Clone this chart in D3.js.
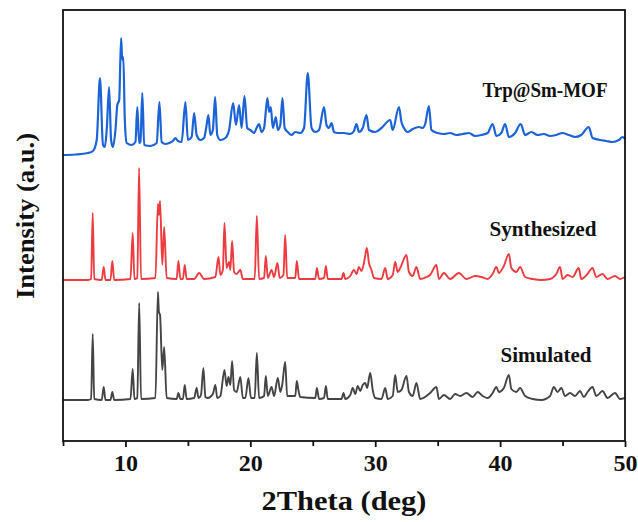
<!DOCTYPE html>
<html>
<head>
<meta charset="utf-8">
<script src="https://cdn.jsdelivr.net/npm/d3@7"></script>
<style>
  body { margin: 0; background: #fff; }
  text { font-family: "Liberation Serif", "Times New Roman", serif; font-weight: bold; fill: #111; }
</style>
</head>
<body>
<script>
// 2Theta (deg), intensity (a.u., patterns already stacked)
const trpTheta = [5.0, 6.0, 7.0, 7.4, 7.7, 7.96, 8.2, 8.35, 8.5, 8.69, 8.85, 9.0, 9.2, 9.35, 9.5, 9.65, 9.75, 9.83, 9.95, 10.1,
  10.5, 10.8, 10.95, 11.1, 11.2, 11.35, 11.5, 12.0, 12.5, 12.72, 12.9, 13.2, 13.5, 13.8, 14.0, 14.2, 14.5, 14.8, 15.0, 15.3,
  15.5, 15.7, 16.0, 16.3, 16.5, 16.64, 16.8, 17.0, 17.18, 17.35, 17.6, 18.0, 18.3, 18.62, 18.85, 19.1, 19.3, 19.53, 19.75, 20.0,
  20.3, 20.5, 20.7, 20.9, 21.1, 21.37, 21.5, 21.64, 21.8, 22.04, 22.2, 22.4, 22.57, 22.75, 23.0, 23.3, 23.6, 24.0, 24.3, 24.6,
  24.9, 25.2, 25.5, 25.9, 26.1, 26.3, 26.5, 26.7, 27.0, 27.5, 28.0, 28.3, 28.5, 28.7, 29.0, 29.3, 29.5, 30.0, 30.5, 31.2,
  31.4, 31.9, 32.1, 32.3, 32.6, 33.0, 33.5, 33.8, 34.0, 34.3, 34.5, 35.0, 35.5, 36.0, 36.5, 37.0, 37.5, 38.0, 38.5, 39.0,
  39.4, 39.7, 40.1, 40.4, 40.7, 41.2, 41.65, 42.0, 42.5, 43.0, 43.5, 44.0, 44.5, 45.0, 45.5, 46.0, 46.5, 47.1, 47.4, 48.0,
  48.5, 49.0, 49.5, 49.8, 50.0];
const trpInt = [286, 286.5, 288, 290, 301, 363, 296, 294, 311, 354, 301, 294, 311, 336, 341, 403, 381, 384, 321, 298,
  296, 299, 334, 298, 299, 348, 296, 295, 298, 339, 299, 297, 298, 300, 303, 300, 299, 339, 301, 304,
  328, 306, 301, 303, 316, 326, 306, 311, 344, 306, 301, 303, 311, 338, 316, 336, 313, 345, 313, 311,
  308, 313, 317, 309, 313, 343, 329, 334, 313, 324, 311, 316, 343, 313, 309, 306, 309, 308, 313, 368,
  313, 309, 311, 334, 316, 313, 318, 309, 308, 308, 307, 310, 317, 309, 313, 326, 311, 309, 313, 321,
  311, 334, 319, 313, 309, 312, 314, 313, 317, 335, 311, 308, 307, 308, 306, 307, 308, 305, 306, 308,
  317, 305, 308, 317, 304, 308, 317, 306, 309, 306, 307, 305, 306, 308, 306, 304, 306, 314, 303, 301,
  300, 299, 301, 304, 302];

const synTheta = [5.0, 7.0, 7.25, 7.38, 7.5, 8.1, 8.26, 8.4, 8.8, 8.95, 9.1, 10.4, 10.58, 10.72, 10.95, 11.09, 11.25, 12.4, 12.6, 12.68,
  12.77, 12.95, 13.1, 13.3, 14.1, 14.24, 14.4, 14.6, 14.75, 14.9, 15.5, 15.9, 16.3, 17.2, 17.45, 17.6, 17.8, 17.93, 18.1, 18.3,
  18.4, 18.54, 18.7, 18.9, 19.2, 19.4, 20.35, 20.52, 20.7, 21.1, 21.24, 21.4, 21.7, 21.9, 22.17, 22.35, 22.65, 22.79, 22.95, 23.6,
  23.72, 23.9, 25.2, 25.33, 25.5, 25.9, 26.05, 26.2, 27.3, 27.46, 27.6, 28.0, 28.3, 28.5, 28.7, 28.9, 29.1, 29.33, 29.5, 29.7,
  29.9, 30.5, 30.8, 31.0, 31.4, 31.6, 31.8, 32.0, 32.5, 32.7, 33.0, 33.3, 33.6, 34.1, 34.4, 34.9, 35.1, 35.5, 36.0, 36.7,
  37.3, 38.0, 38.5, 39.0, 39.4, 39.7, 39.9, 40.3, 40.7, 40.9, 41.3, 41.6, 42.0, 42.6, 43.3, 44.0, 44.5, 44.8, 45.0, 45.4,
  45.8, 46.3, 46.5, 47.0, 47.4, 47.7, 48.2, 48.6, 49.2, 49.6, 50.0];
const synInt = [161, 161, 162, 228, 162, 161, 174, 161, 161, 180, 161, 162, 208, 162, 163, 273, 162, 163, 237, 226,
  240, 176, 214, 163, 162, 180, 162, 162, 176, 162, 162, 168, 162, 164, 184, 166, 171, 218, 173, 179,
  171, 200, 169, 167, 171, 162, 162, 225, 162, 163, 185, 163, 171, 164, 178, 163, 166, 206, 163, 163,
  180, 162, 162, 173, 162, 163, 175, 162, 162, 168, 162, 165, 171, 167, 174, 170, 178, 193, 178, 171,
  163, 162, 173, 162, 166, 179, 169, 173, 186, 169, 165, 174, 162, 164, 166, 176, 162, 168, 162, 168,
  162, 165, 164, 162, 167, 174, 168, 175, 187, 173, 169, 174, 164, 162, 161, 162, 167, 174, 162, 166,
  164, 173, 162, 167, 173, 164, 167, 162, 165, 162, 164];

const simTheta = [5.0, 7.0, 7.25, 7.38, 7.5, 8.1, 8.26, 8.4, 8.8, 8.95, 9.1, 10.4, 10.58, 10.72, 10.95, 11.1, 11.25, 12.4, 12.6, 12.68,
  12.77, 12.95, 13.1, 13.3, 14.1, 14.24, 14.4, 14.6, 14.75, 14.9, 15.5, 15.7, 15.85, 16.05, 16.24, 16.4, 16.6, 17.0, 17.2, 17.35,
  17.6, 17.93, 18.1, 18.25, 18.4, 18.54, 18.7, 18.9, 19.2, 19.4, 19.6, 19.85, 20.05, 20.35, 20.52, 20.7, 21.1, 21.24, 21.4, 21.7,
  21.9, 22.2, 22.4, 22.55, 22.79, 22.95, 23.6, 23.72, 23.85, 24.0, 25.2, 25.33, 25.5, 25.9, 26.05, 26.2, 27.3, 27.46, 27.6, 28.0,
  28.2, 28.4, 28.6, 28.8, 29.0, 29.2, 29.35, 29.6, 29.8, 30.0, 30.5, 30.8, 31.0, 31.4, 31.6, 31.8, 32.1, 32.5, 32.7, 33.0,
  33.3, 33.6, 34.1, 34.4, 34.9, 35.1, 35.5, 36.0, 36.4, 36.8, 37.3, 37.8, 38.2, 38.6, 39.0, 39.4, 39.7, 39.9, 40.3, 40.7,
  40.9, 41.3, 41.6, 42.0, 42.6, 43.3, 44.0, 44.3, 44.6, 44.9, 45.2, 45.6, 46.0, 46.4, 46.7, 47.0, 47.4, 47.7, 48.2, 48.6,
  49.2, 49.6, 50.0];
const simInt = [41, 41, 42, 107, 42, 41, 54, 41, 41, 49, 41, 42, 72, 42, 43, 138, 42, 43, 149, 129,
  126, 71, 94, 43, 42, 48, 42, 42, 56, 42, 43, 53, 43, 46, 73, 44, 43, 47, 56, 43,
  45, 71, 55, 64, 56, 80, 51, 49, 64, 43, 43, 63, 43, 43, 88, 43, 45, 65, 45, 54,
  45, 63, 49, 56, 79, 45, 45, 60, 51, 44, 43, 53, 42, 43, 55, 42, 42, 48, 42, 46,
  53, 47, 55, 50, 56, 58, 53, 68, 51, 43, 42, 53, 42, 45, 66, 49, 51, 65, 49, 45,
  58, 42, 45, 48, 54, 42, 46, 42, 47, 45, 48, 44, 49, 45, 43, 48, 54, 49, 53, 66,
  52, 49, 53, 45, 42, 41, 45, 54, 49, 53, 45, 48, 45, 50, 44, 49, 54, 45, 50, 43,
  48, 42, 43];

const seriesNames = ['Trp@Sm-MOF', 'Synthesized', 'Simulated'];
const seriesColors = ['#1c63d8', '#ee3b3f', '#444444'];
const xTicks = [5, 10, 15, 20, 25, 30, 35, 40, 45, 50];

const width = 638, height = 522;
const margin = {top: 10, right: 13, bottom: 81, left: 63};

let svg = d3.select('body').append('svg')
  .attr('width', width)
  .attr('height', height);

let x = d3.scaleLinear()
  .domain([5, 50])
  .range([margin.left, width - margin.right]);

let y = d3.scaleLinear()
  .domain([0, 431])
  .range([height - margin.bottom, margin.top]);

let series = [
  {name: seriesNames[0], color: seriesColors[0], theta: trpTheta, inten: trpInt, lx: 545, ly: 90, len: 125},
  {name: seriesNames[1], color: seriesColors[1], theta: synTheta, inten: synInt, lx: 543, ly: 229, len: 107},
  {name: seriesNames[2], color: seriesColors[2], theta: simTheta, inten: simInt, lx: 546, ly: 355, len: 91}
];

let line = d3.line()
  .curve(d3.curveMonotoneX)
  .x(d => x(d[0]))
  .y(d => y(d[1]));

svg.append('g')
  .selectAll('path')
  .data(series)
  .enter()
  .append('path')
  .attr('fill', 'none')
  .attr('stroke', d => d.color)
  .attr('stroke-width', (d, i) => i === 0 ? 2.2 : 1.9)
  .attr('stroke-linejoin', 'round')
  .attr('d', d => line(d.theta.map((t, i) => [t, d.inten[i]])));

svg.append('g')
  .selectAll('text')
  .data(series)
  .enter()
  .append('text')
  .attr('x', d => d.lx)
  .attr('y', d => d.ly)
  .attr('dy', '0.35em')
  .attr('text-anchor', 'middle')
  .attr('font-size', 21)
  .attr('textLength', d => d.len)
  .attr('lengthAdjust', 'spacingAndGlyphs')
  .text(d => d.name);

// frame
svg.append('rect')
  .attr('x', margin.left)
  .attr('y', margin.top)
  .attr('width', width - margin.left - margin.right)
  .attr('height', height - margin.top - margin.bottom)
  .attr('fill', 'none')
  .attr('stroke', '#111')
  .attr('stroke-width', 1.8);

let xAxis = svg.append('g')
  .attr('transform', `translate(0, ${height - margin.bottom})`)
  .call(d3.axisBottom(x)
    .tickValues(xTicks)
    .tickSize(6)
    .tickPadding(7)
    .tickFormat(d => d % 10 === 0 ? d : ''));

xAxis.select('.domain').remove();
xAxis.selectAll('line')
  .attr('stroke', '#111')
  .attr('stroke-width', 1.8)
  .attr('y2', d => d % 10 === 0 ? 6 : 5);
xAxis.selectAll('text')
  .attr('font-size', 24)
  .attr('fill', '#111');

svg.append('text')
  .attr('x', (margin.left + width - margin.right) / 2)
  .attr('y', 500)
  .attr('dy', '0.35em')
  .attr('text-anchor', 'middle')
  .attr('font-size', 28)
  .attr('textLength', 165)
  .attr('lengthAdjust', 'spacingAndGlyphs')
  .text('2Theta (deg)');

svg.append('text')
  .attr('transform', 'translate(25, 216) rotate(-90)')
  .attr('dy', '0.35em')
  .attr('text-anchor', 'middle')
  .attr('font-size', 26)
  .attr('textLength', 166)
  .attr('lengthAdjust', 'spacingAndGlyphs')
  .text('Intensity (a.u.)');
</script>
</body>
</html>
